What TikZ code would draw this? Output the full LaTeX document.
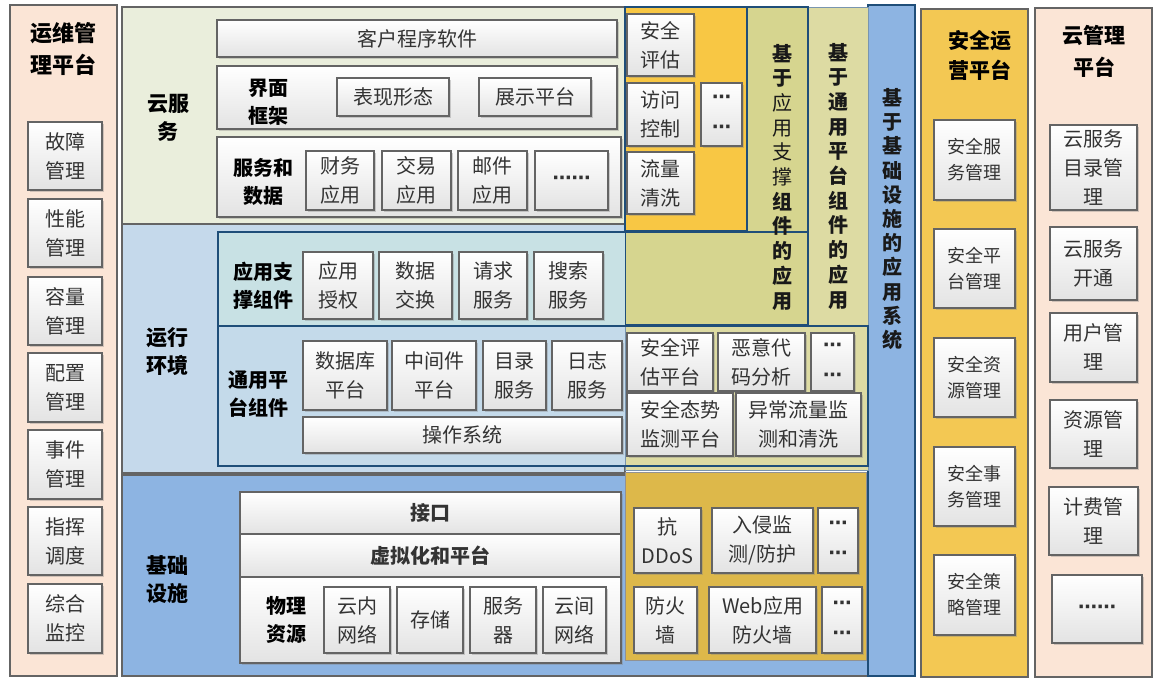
\documentclass[tikz,border=0pt]{standalone}
\usepackage{fontspec}
\setmainfont{Noto Sans CJK SC}
\newfontfamily\dv{DejaVu Sans}
\usetikzlibrary{shadows}
\definecolor{peach}{HTML}{FBE5D6}
\definecolor{goldp}{HTML}{F3C853}
\definecolor{csbg}{HTML}{EAEEDC}
\definecolor{rebg}{HTML}{C5D9EB}
\definecolor{asbg}{HTML}{C8E1E4}
\definecolor{gpbg}{HTML}{C4DAEA}
\definecolor{infbg}{HTML}{8DB4E2}
\definecolor{yel}{HTML}{F8C744}
\definecolor{oli}{HTML}{D6D58F}
\definecolor{kha}{HTML}{DDDBA3}
\definecolor{gold2}{HTML}{DDB84A}
\definecolor{bl}{HTML}{1F4E79}
\definecolor{edge}{HTML}{646464}
\definecolor{txt}{HTML}{333333}
\tikzset{
  panel/.style={draw=edge,line width=1.2pt},
  bx/.style={draw=edge,line width=1.4pt,top color=white,bottom color=black!11,
    drop shadow={shadow xshift=1.8pt,shadow yshift=-1.8pt,opacity=0.35},
    inner sep=0pt,align=center,text=txt,font=\fontsize{20}{29}\selectfont},
  sm/.style={font=\fontsize{18}{26}\selectfont},
  lbl/.style={align=center,inner sep=0pt,text=black,font=\bfseries\fontsize{20}{28}\selectfont},
  ttl/.style={align=center,inner sep=0pt,text=black,font=\bfseries\fontsize{22}{32}\selectfont},
  vtx/.style={align=center,inner sep=0pt,text=black!90,font=\fontsize{20}{24.7}\selectfont},
  dots/.style={font=\dv\bfseries\fontsize{19}{30}\selectfont}
}
\newcommand\Bx[7][]{\node[bx,minimum width={(#5-#3)*1pt},minimum height={(#6-#4)*1pt},#1] (#2) at ({(#3+#5)/2},{(#4+#6)/2}) {#7};}
\begin{document}
\begin{tikzpicture}[x=1pt,y=-1pt]
\useasboundingbox[fill=white] (0,0) rectangle (1155,680);
% ---------- left panel
\path[panel,fill=peach] (10,5) rectangle (117,676);
\node[ttl] (tl) at (63,49) {运维管\\理平台};
\Bx{f1}{28}{122}{102}{190}{故障\\管理}
\Bx{f2}{28}{199}{102}{267}{性能\\管理}
\Bx{f3}{28}{277}{102}{345}{容量\\管理}
\Bx{f4}{28}{353}{102}{422}{配置\\管理}
\Bx{f5}{28}{430}{102}{499}{事件\\管理}
\Bx{f6}{28}{507}{102}{575}{指挥\\调度}
\Bx{f7}{28}{584}{102}{653}{综合\\监控}
% ---------- central backgrounds
\path[panel,fill=csbg] (122,7) rectangle (625,224);
\path[panel,fill=rebg] (122,224) rectangle (625,473);
\path[panel,fill=infbg] (122,475) rectangle (915,676);
\path[draw=bl,line width=1.2pt,fill=infbg] (868,5) rectangle (915,676);
\path[draw=bl!60,line width=0.8pt,fill=kha] (625,7) rectangle (868,470);
\path[draw=bl,line width=1.2pt,fill=oli] (625,7) rectangle (808,325);
\path[draw=bl,line width=1.2pt,fill=yel] (625,7) rectangle (747,231);
\path[draw=edge!70,line width=0.8pt,fill=gold2] (625,472) rectangle (866,660);
\path[fill=asbg] (218,232) rectangle (625,326);
\path[fill=gpbg] (218,326) rectangle (625,465);
\draw[bl,line width=1.5pt] (218,232) rectangle (808,326);
\draw[bl,line width=1.5pt] (218,326) rectangle (868,466);
% ---------- region labels
\node[lbl,font=\bfseries\fontsize{21}{28}\selectfont] (lcs) at (168,118) {云服\\务};
\node[lbl,font=\bfseries\fontsize{21}{28}\selectfont] (lre) at (167,352) {运行\\环境};
\node[lbl,font=\bfseries\fontsize{21}{28}\selectfont] (lin) at (167,580) {基础\\设施};
% ---------- cloud service
\Bx{cust}{217}{20}{617}{57}{客户程序软件}
\Bx{ui}{217}{66}{617}{129}{}
\Bx{sd}{217}{137}{621}{217}{}
\node[lbl] (lui) at (268,102) {界面\\框架};
\node[lbl] (lsd) at (263,182) {服务和\\数据};
\Bx{ui1}{337}{78}{449}{116}{表现形态}
\Bx{ui2}{479}{78}{591}{116}{展示平台}
\Bx{sd1}{306}{151}{374}{210}{财务\\应用}
\Bx{sd2}{382}{151}{451}{210}{交易\\应用}
\Bx{sd3}{458}{151}{527}{210}{邮件\\应用}
\Bx[dots]{sd4}{535}{151}{608}{210}{⋯⋯}
% ---------- runtime
\node[lbl] (las) at (263,286) {应用支\\撑组件};
\node[lbl] (lgp) at (258,394) {通用平\\台组件};
\Bx{as1}{303}{252}{373}{319}{应用\\授权}
\Bx{as2}{379}{252}{452}{319}{数据\\交换}
\Bx{as3}{459}{252}{527}{319}{请求\\服务}
\Bx{as4}{534}{252}{603}{319}{搜索\\服务}
\Bx{gp1}{303}{341}{387}{410}{数据库\\平台}
\Bx{gp2}{392}{341}{476}{410}{中间件\\平台}
\Bx{gp3}{483}{341}{546}{410}{目录\\服务}
\Bx{gp4}{552}{341}{622}{410}{日志\\服务}
\Bx{os}{303}{417}{622}{453}{操作系统}
% ---------- infrastructure
\Bx[font=\bfseries\fontsize{20}{29}\selectfont]{itf}{240}{492}{621}{534}{接口}
\Bx[font=\bfseries\fontsize{20}{29}\selectfont]{virt}{240}{534}{621}{577}{虚拟化和平台}
\Bx{phys}{240}{577}{621}{663}{}
\node[lbl] (lph) at (286,620) {物理\\资源};
\Bx{ph1}{324}{587}{390}{653}{云内\\网络}
\Bx{ph2}{397}{587}{463}{653}{存储}
\Bx{ph3}{470}{587}{536}{653}{服务\\器}
\Bx{ph4}{543}{587}{606}{653}{云间\\网络}
% ---------- security boxes
\Bx{s1}{627}{14}{694}{76}{安全\\评估}
\Bx{s2}{627}{83}{694}{146}{访问\\控制}
\Bx{s3}{627}{152}{694}{214}{流量\\清洗}
\Bx[dots]{s4}{701}{83}{742}{146}{⋯\\⋯}
\Bx{p1}{627}{333}{713}{391}{安全评\\估平台}
\Bx{p2}{718}{333}{805}{391}{恶意代\\码分析}
\Bx[dots]{p3}{811}{333}{854}{391}{⋯\\⋯}
\Bx{p4}{627}{393}{733}{456}{安全态势\\监测平台}
\Bx{p5}{736}{393}{861}{456}{异常流量监\\测和清洗}
\Bx{i1}{634}{508}{701}{573}{抗\\DDoS}
\Bx{i2}{712}{508}{813}{573}{入侵监\\测/防护}
\Bx[dots]{i3}{818}{508}{858}{573}{⋯\\⋯}
\Bx{i4}{634}{587}{697}{653}{防火\\墙}
\Bx{i5}{709}{587}{816}{653}{Web应用\\防火墙}
\Bx[dots]{i6}{822}{587}{862}{653}{⋯\\⋯}
% ---------- vertical texts
\node[vtx] (v1) at (782,177) {\bfseries 基\\\bfseries 于\\应\\用\\支\\撑\\\bfseries 组\\\bfseries 件\\\bfseries 的\\\bfseries 应\\\bfseries 用};
\node[vtx,font=\bfseries\fontsize{20}{24.7}\selectfont] (v2) at (838,176) {基\\于\\通\\用\\平\\台\\组\\件\\的\\应\\用};
\node[vtx,font=\bfseries\fontsize{20}{24.2}\selectfont] (v3) at (892,219) {基\\于\\基\\础\\设\\施\\的\\应\\用\\系\\统};
% ---------- security operations platform
\path[panel,fill=goldp] (921,9) rectangle (1028,677);
\node[ttl,font=\bfseries\fontsize{21}{30}\selectfont] (tso) at (980,55) {安全运\\营平台};
\Bx[sm]{o1}{934}{120}{1015}{200}{安全服\\务管理}
\Bx[sm]{o2}{934}{229}{1015}{308}{安全平\\台管理}
\Bx[sm]{o3}{934}{338}{1015}{417}{安全资\\源管理}
\Bx[sm]{o4}{934}{447}{1015}{526}{安全事\\务管理}
\Bx[sm]{o5}{934}{555}{1015}{635}{安全策\\略管理}
% ---------- cloud management platform
\path[panel,fill=peach] (1035,8) rectangle (1152,677);
\node[ttl,font=\bfseries\fontsize{21}{32}\selectfont] (tcm) at (1094,51) {云管理\\平台};
\Bx{c1}{1050}{125}{1137}{210}{云服务\\目录管\\理}
\Bx{c2}{1050}{227}{1137}{300}{云服务\\开通}
\Bx{c3}{1050}{313}{1137}{382}{用户管\\理}
\Bx{c4}{1050}{400}{1137}{468}{资源管\\理}
\Bx{c5}{1049}{487}{1138}{555}{计费管\\理}
\Bx[dots]{c6}{1052}{575}{1142}{643}{⋯⋯}
\end{tikzpicture}
\end{document}
